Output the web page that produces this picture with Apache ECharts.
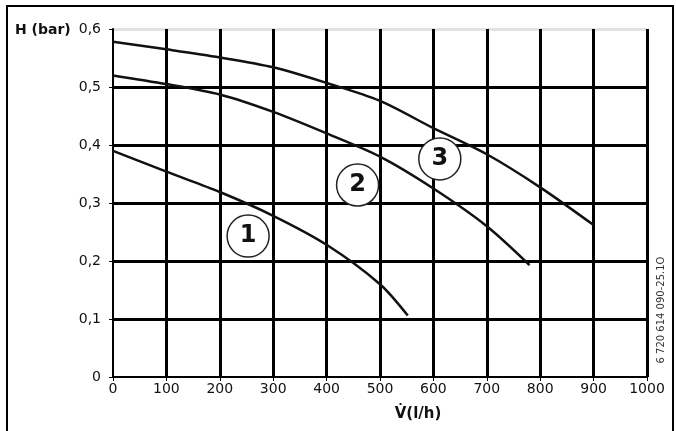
<!DOCTYPE html>
<html>
<head>
<meta charset="utf-8">
<script src="https://cdn.jsdelivr.net/npm/echarts@6/dist/echarts.min.js"></script>
<style>
  html, body { margin: 0; padding: 0; background: #fff; }
  #chart { width: 676px; height: 431px; }
</style>
</head>
<body>
<div id="chart"></div>
<script>
// pump curves, flow V (l/h) vs head H (bar)
const curve1V = [0, 100, 200, 300, 400, 500, 552]
const curve1H = [0.390, 0.354, 0.319, 0.278, 0.228, 0.160, 0.106]
const curve2V = [0, 100, 200, 300, 400, 500, 600, 700, 780]
const curve2H = [0.520, 0.505, 0.487, 0.457, 0.420, 0.380, 0.325, 0.260, 0.193]
const curve3V = [0, 100, 200, 300, 400, 500, 600, 700, 800, 900]
const curve3H = [0.578, 0.565, 0.551, 0.534, 0.507, 0.476, 0.429, 0.384, 0.327, 0.262]

// numbered circles next to the curves
const markerNames = ['1', '2', '3']
const markerV = [253, 458, 612]
const markerH = [0.243, 0.331, 0.376]

const xTicks = [0, 1000, 100]   // min, max, step
const yTicks = [0, 0.6, 0.1]

const font = 'DejaVu Sans'

function pairs(xs, ys) {
  return xs.map((x, i) => [x, ys[i]])
}

const chart = echarts.init(document.getElementById('chart'))

const curveStyle = {
  type: 'line',
  smooth: 0.3,
  showSymbol: false,
  silent: true,
  lineStyle: { color: '#111', width: 2.5 },
  z: 3
}

chart.setOption({
  animation: false,
  backgroundColor: '#fff',
  grid: { left: 113, right: 29, top: 29, bottom: 54 },
  xAxis: {
    type: 'value',
    min: xTicks[0],
    max: xTicks[1],
    interval: xTicks[2],
    axisLine: { show: true, lineStyle: { color: '#000', width: 2 } },
    axisTick: { show: true, length: 4, lineStyle: { color: '#000', width: 1 } },
    axisLabel: {
      color: '#111',
      fontFamily: font,
      fontSize: 14,
      margin: 5,
      formatter: v => String(v)
    },
    splitLine: {
      show: true,
      lineStyle: {
        width: 3,
        color: ['rgba(0,0,0,0)', '#000', '#000', '#000', '#000', '#000', '#000', '#000', '#000', '#000', '#000']
      }
    }
  },
  yAxis: {
    type: 'value',
    min: yTicks[0],
    max: yTicks[1],
    interval: yTicks[2],
    axisLine: { show: true, lineStyle: { color: '#000', width: 2 } },
    axisTick: { show: true, length: 4, lineStyle: { color: '#000', width: 1 } },
    axisLabel: {
      color: '#111',
      fontFamily: font,
      fontSize: 14,
      margin: 12,
      formatter: v => (v === 0 ? '0' : v.toFixed(1).replace('.', ','))
    },
    splitLine: {
      show: true,
      lineStyle: {
        width: 3,
        color: ['rgba(0,0,0,0)', '#000', '#000', '#000', '#000', '#000', '#e2e2e2']
      }
    }
  },
  series: [
    Object.assign({ name: '1', data: pairs(curve1V, curve1H) }, curveStyle),
    Object.assign({ name: '2', data: pairs(curve2V, curve2H) }, curveStyle),
    Object.assign({ name: '3', data: pairs(curve3V, curve3H) }, curveStyle),
    {
      type: 'scatter',
      silent: true,
      z: 4,
      symbol: 'circle',
      symbolSize: 42,
      itemStyle: { color: '#fff', borderColor: '#222', borderWidth: 1.5, opacity: 1 },
      label: {
        show: true,
        position: 'inside',
        formatter: p => markerNames[p.dataIndex],
        color: '#111',
        fontFamily: font,
        fontWeight: 'bold',
        fontSize: 24
      },
      data: pairs(markerV, markerH)
    }
  ],
  graphic: [
    {
      type: 'rect',
      shape: { x: 7, y: 6, width: 666, height: 440 },
      style: { fill: 'none', stroke: '#000', lineWidth: 2 },
      silent: true
    },
    {
      type: 'text',
      x: 15,
      y: 30,
      style: {
        text: 'H (bar)',
        fill: '#111',
        font: 'bold 14px "DejaVu Sans"',
        verticalAlign: 'middle'
      }
    },
    {
      type: 'text',
      x: 418,
      y: 414,
      style: {
        text: 'V\u0307(l/h)',
        fill: '#111',
        font: 'bold 15px "DejaVu Sans"',
        align: 'center',
        verticalAlign: 'middle'
      }
    },
    {
      type: 'text',
      x: 661,
      y: 310,
      rotation: Math.PI / 2,
      style: {
        text: '6 720 614 090-25.1O',
        fill: '#333',
        font: '10px "DejaVu Sans"',
        align: 'center',
        verticalAlign: 'middle'
      }
    }
  ]
})
</script>
</body>
</html>
